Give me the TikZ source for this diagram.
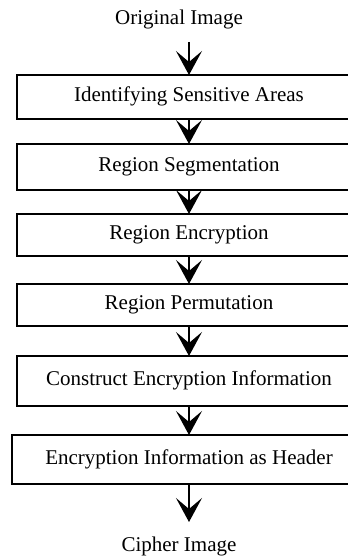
\documentclass[tikz,border=0pt]{standalone}
\usepackage{fontspec}
\setmainfont{Liberation Serif}
\usetikzlibrary{positioning, arrows.meta}

\begin{document}
\begin{tikzpicture}[x=1pt, y=1pt,
    font=\fontsize{21pt}{25pt}\selectfont,
    stage/.style={draw, line width=1.4pt, minimum width=344pt, inner sep=0pt, outer sep=0pt, text height=14pt, text depth=4pt},
    flow/.style={line width=1.3pt, -{Stealth[length=24pt, width=26pt, inset=11pt]}}]
\useasboundingbox (0,0) rectangle (348,558);

\node[anchor=base] (orig) at (179,533) {Original Image};
\coordinate (origp) at (189,516);

\node[stage, minimum height=44pt] (s1) at (189,461) {Identifying Sensitive Areas};
\node[stage, minimum height=46pt, below=25pt of s1] (s2) {Region Segmentation};
\node[stage, minimum height=42pt, below=24pt of s2] (s3) {Region Encryption};
\node[stage, minimum height=42pt, below=28pt of s3] (s4) {Region Permutation};
\node[stage, minimum height=50pt, below=30pt of s4] (s5) {Construct Encryption Information};
\node[stage, minimum height=49pt, minimum width=354pt, below=29pt of s5] (s6) {Encryption Information as Header};

\coordinate (cipherp) at (189,36);
\node[anchor=base] (cipher) at (179,6) {Cipher Image};

\draw
    (origp) edge[flow] (s1)
    (s1) edge[flow] (s2)
    (s2) edge[flow] (s3)
    (s3) edge[flow] (s4)
    (s4) edge[flow] (s5)
    (s5) edge[flow] (s6)
    (s6) edge[flow] (cipherp)
    ;
\end{tikzpicture}
\end{document}
